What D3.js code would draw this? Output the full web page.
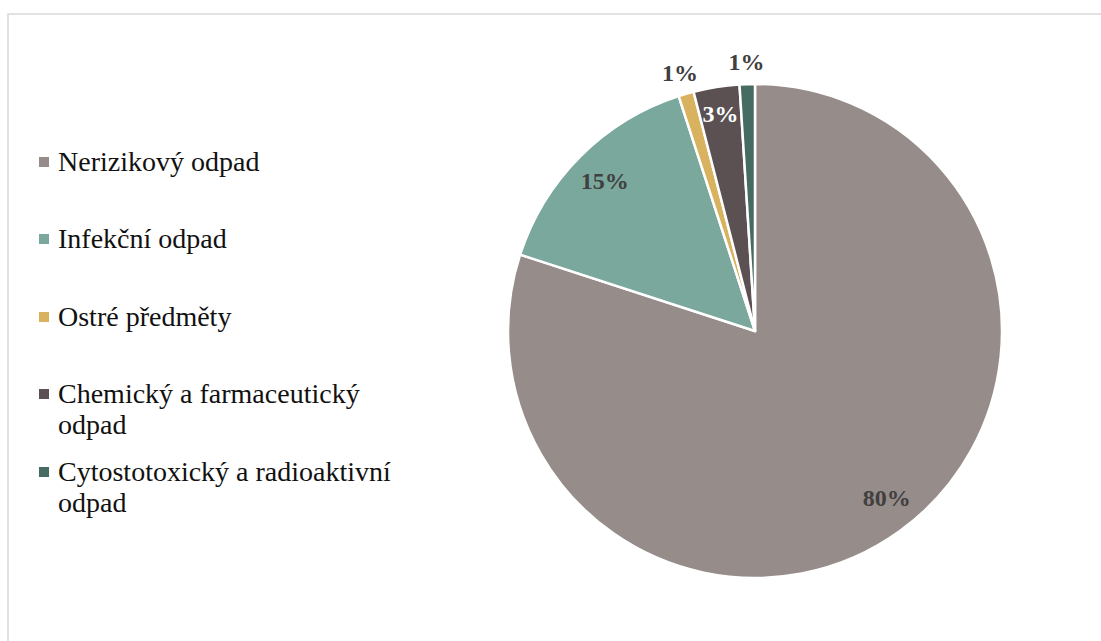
<!DOCTYPE html>
<html>
<head>
<meta charset="utf-8">
<script src="https://cdn.jsdelivr.net/npm/d3@7"></script>
<style>
html,body{margin:0;padding:0;background:#fff;}
svg{display:block;}
text{font-family:"Liberation Serif","Times New Roman",Times,serif;}
</style>
</head>
<body>
<svg id="chart" width="1101" height="641"></svg>
<script>
const categories = ["Nerizikový odpad", "Infekční odpad", "Ostré předměty", "Chemický a farmaceutický odpad", "Cytostotoxický a radioaktivní odpad"];
const legendLines = [["Nerizikový odpad"], ["Infekční odpad"], ["Ostré předměty"], ["Chemický a farmaceutický", "odpad"], ["Cytostotoxický a radioaktivní", "odpad"]];
const values = [80, 15, 1, 3, 1];
const colors = ["#968c8a", "#7aa89c", "#d9b25f", "#5b5152", "#466b62"];

const svg = d3.select("#chart");
svg.append("rect").attr("x", 8).attr("y", 14).attr("width", 1110).attr("height", 660)
  .attr("fill", "#fff").attr("stroke", "#d9d9d9").attr("stroke-width", 1.5);

const cx = 755, cy = 331, R = 247;
const total = d3.sum(values);
const pie = d3.pie().sort(null).value(d => d)(values);
const arc = d3.arc().innerRadius(0).outerRadius(R);

const g = svg.append("g").attr("transform", `translate(${cx},${cy})`);
g.selectAll("path").data(pie).join("path")
  .attr("d", arc)
  .attr("fill", (d, i) => colors[i])
  .attr("stroke", "#fff").attr("stroke-width", 2.5).attr("stroke-linejoin", "round");

function labelRadius(v) {
  const p = v / total * 100;
  if (p >= 10) return R * 0.86;
  if (p >= 2) return R * 0.89;
  return R * 1.09;
}
g.selectAll("text.lbl").data(pie).join("text")
  .attr("class", "lbl")
  .attr("transform", d => {
    const a = (d.startAngle + d.endAngle) / 2 - (d.value / total >= 0.5 ? 0.04 : 0);
    const r = labelRadius(d.value);
    return `translate(${Math.sin(a) * r},${-Math.cos(a) * r})`;
  })
  .attr("text-anchor", "middle")
  .attr("dy", "0.35em")
  .attr("font-weight", "bold")
  .attr("font-size", 24)
  .attr("fill", d => (d.value / total >= 0.02 && d.value / total < 0.1) ? "#ffffff" : "#404040")
  .text(d => Math.round(d.value / total * 100) + "%");

// legend
const legY = [162, 239, 317, 394, 472];
const lg = svg.append("g");
categories.forEach((c, i) => {
  const row = lg.append("g").attr("transform", `translate(39,${legY[i]})`);
  row.append("rect").attr("x", 0).attr("y", -5).attr("width", 10).attr("height", 10).attr("fill", colors[i]);
  const t = row.append("text").attr("x", 19).attr("y", 9)
    .attr("font-size", 28).attr("fill", "#111");
  legendLines[i].forEach((l, j) => {
    t.append("tspan").attr("x", 19).attr("dy", j === 0 ? 0 : 31).text(l);
  });
});
</script>
</body>
</html>
